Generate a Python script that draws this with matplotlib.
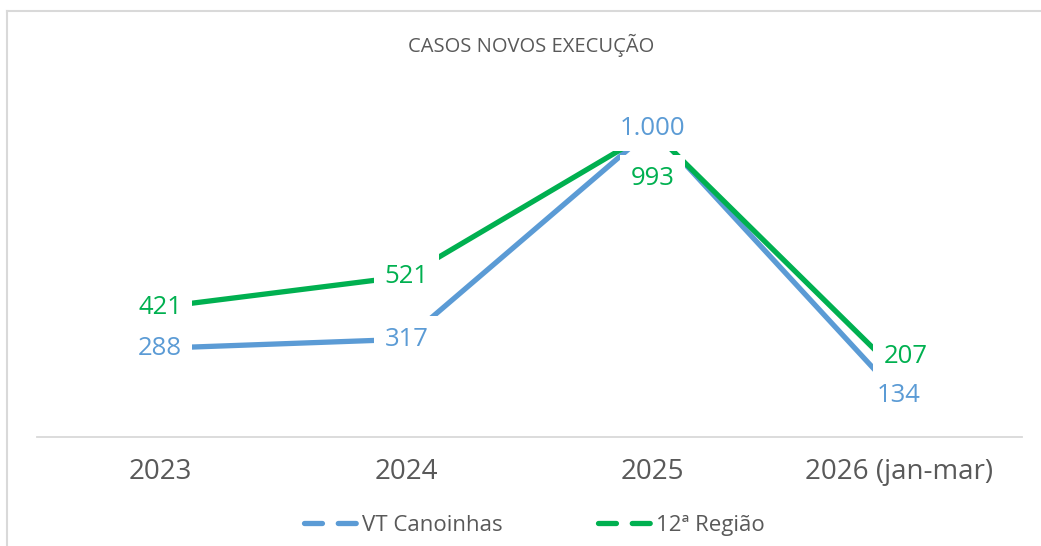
import matplotlib
matplotlib.use('Agg')
import matplotlib.pyplot as plt
from matplotlib.lines import Line2D
import numpy as np

plt.rcParams.update({'font.family': ['Open Sans', 'DejaVu Sans']})

# data
categories = ['2023', '2024', '2025', '2026 (jan-mar)']
vt_canoinhas = [288, 317, 1000, 134]
regiao12 = [421, 521, 993, 207]
vt_labels = ['288', '317', '1.000', '134']
rg_labels = ['421', '521', '993', '207']
# label offsets in points (dx, dy)
vt_offsets = [(0, 0), (0, 0), (0, 0), (0, 0)]
rg_offsets = [(0, 0), (0, 0), (0, -34), (5, 12)]

c_blue = '#5B9BD5'
c_green = '#00B050'
c_text = '#595959'

fig = plt.figure(figsize=(10.41, 5.46), dpi=100)
ax = fig.add_axes([0.0355, 0.1996, 0.946, 0.6777])

x = np.arange(len(categories))
ax.plot(x, vt_canoinhas, color=c_blue, lw=3.8, solid_capstyle='butt', zorder=2)
ax.plot(x, regiao12, color=c_green, lw=3.8, solid_capstyle='butt', zorder=2)

box = dict(boxstyle='square,pad=0.4', fc='white', ec='none')
for xi, v, s, off in zip(x, vt_canoinhas, vt_labels, vt_offsets):
    ax.annotate(s, (xi, v), xytext=off, textcoords='offset points',
                ha='center', va='center', fontsize=18.5, color=c_blue,
                bbox=box, zorder=3)
for xi, v, s, off in zip(x, regiao12, rg_labels, rg_offsets):
    ax.annotate(s, (xi, v), xytext=off, textcoords='offset points',
                ha='center', va='center', fontsize=18.5, color=c_green,
                bbox=box, zorder=4)

ax.set_xlim(-0.5, len(categories) - 0.5)
ax.set_ylim(0, 1200)
ax.set_xticks(x)
ax.set_xticklabels(categories, fontsize=20, color=c_text)
ax.tick_params(axis='x', length=0, pad=15)
ax.set_yticks([])
for side in ['top', 'right', 'left']:
    ax.spines[side].set_visible(False)
ax.spines['bottom'].set_color('#D9D9D9')
ax.spines['bottom'].set_linewidth(1.3)

fig.text(0.51, 1 - 45 / 546, 'CASOS NOVOS EXECUÇÃO', ha='center', va='center',
         fontsize=14.5, color=c_text)

handles = [Line2D([], [], color=c_blue, lw=3.8, dashes=(3.4, 3.0), dash_capstyle='round'),
           Line2D([], [], color=c_green, lw=3.8, dashes=(3.4, 3.0), dash_capstyle='round')]
fig.legend(handles, ['VT Canoinhas', '12ª Região'], loc='center',
           bbox_to_anchor=(0.513, 1 - 525 / 546), ncol=2, frameon=False,
           fontsize=16, labelcolor=c_text, handlelength=2.5, handletextpad=0.1,
           columnspacing=4.3)

# chart area border (top and left visible)
fig.add_artist(Line2D([7 / 1041, 1], [1 - 11 / 546, 1 - 11 / 546],
                      transform=fig.transFigure, color='#D9D9D9', lw=1.5))
fig.add_artist(Line2D([7 / 1041, 7 / 1041], [0, 1 - 11 / 546],
                      transform=fig.transFigure, color='#D9D9D9', lw=1.5))

fig.savefig('out.png', dpi=100)
